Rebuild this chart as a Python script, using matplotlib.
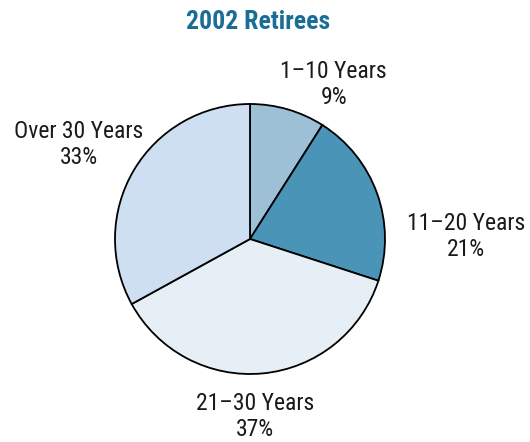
import matplotlib.pyplot as plt
from matplotlib import font_manager

names = {f.name for f in font_manager.fontManager.ttflist}
fam = 'DejaVu Sans'
for cand in ['Roboto Condensed', 'Liberation Sans Narrow', 'Open Sans Condensed', 'Roboto']:
    if cand in names:
        fam = cand
        break

# data
labels = ['1–10 Years', '11–20 Years', '21–30 Years', 'Over 30 Years']
shares = [9, 21, 37, 33]
colors = ['#9dc0d7', '#4a94b8', '#e6eef6', '#cddff0']

# label spots (data coords, pie radius = 1)
label_pos = [(0.62, 1.145), (1.60, 0.02), (0.035, -1.315), (-1.27, 0.70)]

fig = plt.figure(figsize=(5.3, 4.42), dpi=100)
ax = fig.add_axes([115/530, 68/442, 270/530, 270/442])
ax.pie(shares, colors=colors, startangle=90, counterclock=False,
       wedgeprops={'edgecolor': 'black', 'linewidth': 1.3})
ax.set_xlim(-1, 1)
ax.set_ylim(-1, 1)
ax.set_aspect('equal')

for lab, v, (x, y) in zip(labels, shares, label_pos):
    ax.text(x, y, f'{lab}\n{v}%', ha='center', va='center', fontsize=17,
            family=fam, color='#1a1a1a', linespacing=1.15, clip_on=False)

fig.text(258/530, 1 - 22/442, '2002 Retirees', ha='center', va='center',
         fontsize=18.5, fontweight='bold', family=fam, color='#1a6e96')

fig.savefig('out.png', dpi=100)
